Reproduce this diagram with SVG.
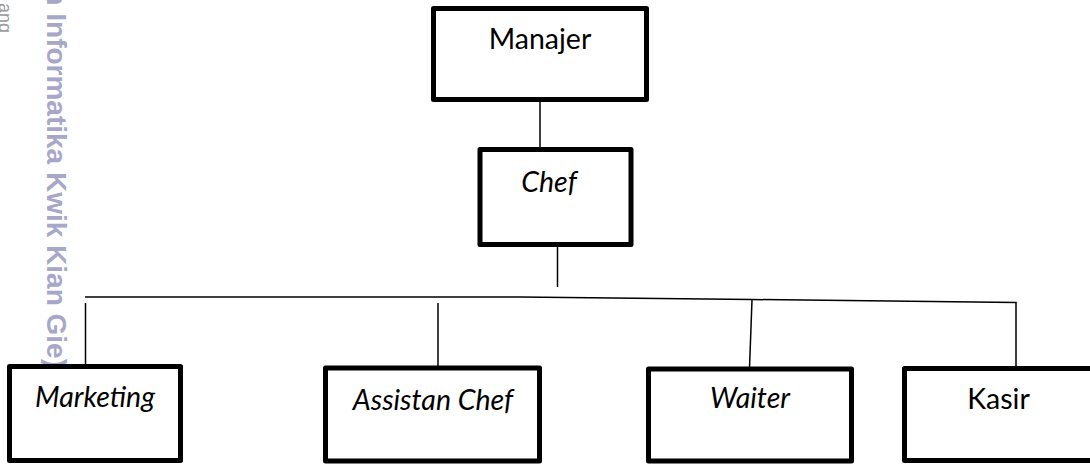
<svg xmlns="http://www.w3.org/2000/svg" width="1090" height="464" viewBox="0 0 1090 464">
  <style>
    .box { fill: #ffffff; stroke: #000000; stroke-width: 5; stroke-linejoin: round; }
    .lbl { font-family: Lato, "Open Sans", "Liberation Sans", sans-serif; font-size: 28.5px; fill: #000000; text-anchor: middle; }
    .it { font-style: italic; }
    .conn { fill: none; stroke: #000000; stroke-width: 1.5; }
    .wm { font-family: "Liberation Sans", Arial, sans-serif; font-weight: bold; font-size: 28px; fill: #a7a7c9; }
    .wm2 { font-family: "Liberation Sans", Arial, sans-serif; font-size: 18px; fill: #9a9a9a; }
  </style>
  <rect width="1090" height="464" fill="#ffffff"/>

  <g id="watermark">
    <text class="wm2" transform="translate(-1.5,33) rotate(90)" text-anchor="end">ang</text>
    <text class="wm" transform="translate(47,368) rotate(90)" text-anchor="end">n Informatika Kwik Kian Gie)</text>
  </g>

  <g id="connectors">
    <line class="conn" x1="540" y1="102" x2="540" y2="147"/>
    <line class="conn" x1="557.5" y1="247" x2="557.5" y2="287"/>
    <polyline class="conn" points="85,297 520,297 752,299.5 1016,302.5 1016,366"/>
    <line class="conn" x1="85.5" y1="303" x2="85.5" y2="364"/>
    <line class="conn" x1="438" y1="303" x2="438" y2="366"/>
    <line class="conn" x1="752" y1="300" x2="749.5" y2="368"/>
  </g>

  <g id="manajer">
    <rect class="box" x="433.5" y="8.5" width="213" height="91"/>
    <text class="lbl" x="540" y="49">Manajer</text>
  </g>
  <g id="chef">
    <rect class="box" x="480" y="149.5" width="151" height="95"/>
    <text class="lbl it" x="549" y="192">Chef</text>
  </g>
  <g id="marketing">
    <rect class="box" x="9.5" y="366.5" width="171" height="94"/>
    <text class="lbl it" x="95" y="407">Marketing</text>
  </g>
  <g id="assistan-chef">
    <rect class="box" x="325.5" y="368" width="214" height="93"/>
    <text class="lbl it" x="433" y="410">Assistan Chef</text>
  </g>
  <g id="waiter">
    <rect class="box" x="648.5" y="369" width="203" height="92"/>
    <text class="lbl it" x="750" y="408">Waiter</text>
  </g>
  <g id="kasir">
    <rect class="box" x="904.5" y="368.5" width="230" height="92"/>
    <text class="lbl" x="998.5" y="409">Kasir</text>
  </g>
</svg>
